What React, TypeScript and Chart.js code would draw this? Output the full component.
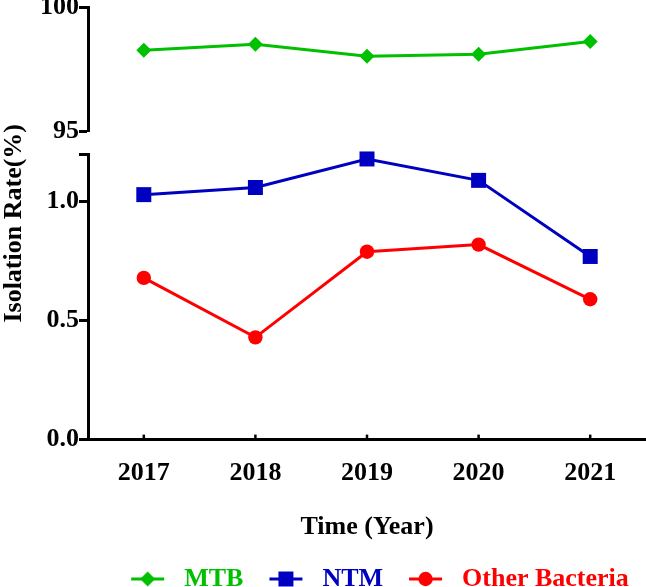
import { useEffect, useRef } from "react"
import { Chart, registerables } from "chart.js"

Chart.register(...registerables)

const years = ["2017", "2018", "2019", "2020", "2021"]
const mtbRates = [98.26, 98.5, 98.02, 98.1, 98.61]
const ntmRates = [1.03, 1.06, 1.18, 1.09, 0.77]
const otherRates = [0.68, 0.43, 0.79, 0.82, 0.59]
const upperTicks = [95, 100]
const lowerTicks = [0, 0.5, 1.0, 1.2]

const GREEN = "rgb(0, 192, 0)"
const BLUE = "rgb(0, 0, 192)"
const RED = "rgb(255, 0, 0)"
const FONT = "'Liberation Serif', 'Times New Roman', serif"

const boldFont = (size: number, lineHeight = 1.2) => ({
  family: FONT,
  size,
  weight: "bold" as const,
  lineHeight,
})

// small line + marker picture used as the legend symbol
function legendIcon(color: string, style: string, radius: number) {
  const c = document.createElement("canvas")
  c.width = 66
  c.height = 22
  const ctx = c.getContext("2d")
  if (!ctx) return c
  ctx.strokeStyle = color
  ctx.fillStyle = color
  ctx.lineWidth = 3
  ctx.beginPath()
  ctx.moveTo(26, 11)
  ctx.lineTo(59, 11)
  ctx.stroke()
  const cx = 42.5
  const cy = 11
  ctx.beginPath()
  if (style === "circle") {
    ctx.arc(cx, cy, radius, 0, Math.PI * 2)
  } else if (style === "rect") {
    const s = radius * Math.SQRT1_2
    ctx.rect(cx - s, cy - s, s * 2, s * 2)
  } else {
    ctx.moveTo(cx - radius, cy)
    ctx.lineTo(cx, cy - radius)
    ctx.lineTo(cx + radius, cy)
    ctx.lineTo(cx, cy + radius)
    ctx.closePath()
  }
  ctx.fill()
  return c
}

// short tick marks pointing up into the plot, as in the original
const innerTicks = {
  id: "innerTicks",
  afterDraw(chart: Chart) {
    const { ctx, chartArea, scales } = chart
    const xScale = scales.x
    ctx.save()
    ctx.strokeStyle = "#000"
    ctx.lineWidth = 2.5
    xScale.ticks.forEach((_, i) => {
      const px = xScale.getPixelForTick(i)
      ctx.beginPath()
      ctx.moveTo(px, chartArea.bottom)
      ctx.lineTo(px, chartArea.bottom - 5)
      ctx.stroke()
    })
    ctx.restore()
  },
}

// fixed outer padding so the plot reaches the right edge and near the top
const fixPadding = (top: number) => (scale: any) => {
  scale.paddingLeft = 0
  scale.paddingRight = 0
  scale.paddingTop = top
  scale.paddingBottom = 0
}

export default function App() {
  const chartRef = useRef<HTMLCanvasElement>(null)
  const chartInstance = useRef<Chart | null>(null)

  useEffect(() => {
    if (!chartRef.current) return
    if (chartInstance.current) chartInstance.current.destroy()

    const series = [
      { label: "MTB", data: mtbRates, axis: "yTop", color: GREEN, style: "rectRot", radius: 7.5 },
      { label: "NTM", data: ntmRates, axis: "y", color: BLUE, style: "rect", radius: 10.6 },
      { label: "Other Bacteria", data: otherRates, axis: "y", color: RED, style: "circle", radius: 7.2 },
    ]
    const icons = series.map((s) => legendIcon(s.color, s.style, s.radius))

    const axisTicks = (stepLabel: (v: number) => string) => ({
      color: "#000",
      font: boldFont(26),
      padding: 0,
      callback: (v: number | string) => stepLabel(Number(v)),
    })
    const axisGrid = {
      display: true,
      drawOnChartArea: false,
      drawTicks: true,
      tickLength: 9,
      tickWidth: 3,
      tickColor: "#000",
    }
    const axisBorder = { display: true, width: 3, color: "#000" }

    chartInstance.current = new Chart(chartRef.current, {
      type: "line",
      data: {
        labels: years,
        datasets: series.map((s) => ({
          label: s.label,
          data: s.data,
          yAxisID: s.axis,
          borderColor: s.color,
          backgroundColor: s.color,
          borderWidth: 3,
          pointStyle: s.style,
          pointRadius: s.radius,
          pointBorderWidth: 0,
          tension: 0,
          clip: false,
        })),
      },
      options: {
        animation: false,
        responsive: true,
        maintainAspectRatio: false,
        layout: { autoPadding: false, padding: { top: 0, right: 0, bottom: -15, left: 0 } },
        scales: {
          x: {
            type: "category",
            offset: true,
            afterFit: fixPadding(0),
            grid: { display: false, drawTicks: true, tickLength: 15 },
            border: axisBorder,
            ticks: {
              color: "#000",
              font: boldFont(26),
              padding: 3,
              maxRotation: 0,
              autoSkip: false,
            },
            title: {
              display: true,
              text: "Time (Year)",
              color: "#000",
              font: boldFont(26),
              padding: { top: 20, bottom: 23 },
            },
          },
          y: {
            type: "linear",
            position: "left",
            stack: "rate",
            stackWeight: 285,
            min: lowerTicks[0],
            max: lowerTicks[lowerTicks.length - 1],
            afterBuildTicks: (scale) => {
              scale.ticks = lowerTicks.map((value) => ({ value }))
            },
            afterFit: fixPadding(7),
            ticks: axisTicks((v) => (v === lowerTicks[lowerTicks.length - 1] ? "" : v.toFixed(1))),
            grid: axisGrid,
            border: axisBorder,
          },
          yGap: {
            type: "linear",
            position: "left",
            stack: "rate",
            stackWeight: 23,
            afterFit: fixPadding(0),
            grid: { display: false, drawTicks: false },
            border: { display: false },
            ticks: { display: false },
          },
          yTop: {
            type: "linear",
            position: "left",
            stack: "rate",
            stackWeight: 124,
            min: upperTicks[0],
            max: upperTicks[upperTicks.length - 1],
            afterBuildTicks: (scale) => {
              scale.ticks = upperTicks.map((value) => ({ value }))
            },
            afterFit: fixPadding(7),
            ticks: axisTicks((v) => String(v)),
            grid: axisGrid,
            border: axisBorder,
          },
          yTitle: {
            type: "linear",
            position: "left",
            afterFit: fixPadding(0),
            grid: { display: false, drawTicks: false },
            border: { display: false },
            ticks: { display: false },
            title: {
              display: true,
              text: "Isolation Rate(%)",
              color: "#000",
              font: boldFont(26, 1),
              padding: { top: 1, bottom: 13 },
            },
          },
        },
        plugins: {
          legend: {
            position: "bottom",
            fullSize: false,
            labels: {
              usePointStyle: true,
              pointStyleWidth: 66,
              padding: 0,
              font: boldFont(26),
              generateLabels: () =>
                series.map((s, i) => ({
                  text: s.label,
                  fontColor: s.color,
                  pointStyle: icons[i],
                  fillStyle: s.color,
                  strokeStyle: s.color,
                  lineWidth: 0,
                  hidden: false,
                  datasetIndex: i,
                })),
            },
          },
          tooltip: { enabled: false },
        },
      },
      plugins: [innerTicks],
    })

    return () => {
      if (chartInstance.current) {
        chartInstance.current.destroy()
        chartInstance.current = null
      }
    }
  }, [])

  return (
    <div style={{ position: "absolute", left: 0, top: 0, width: 646, height: 587, background: "#fff" }}>
      <canvas ref={chartRef} />
    </div>
  )
}
